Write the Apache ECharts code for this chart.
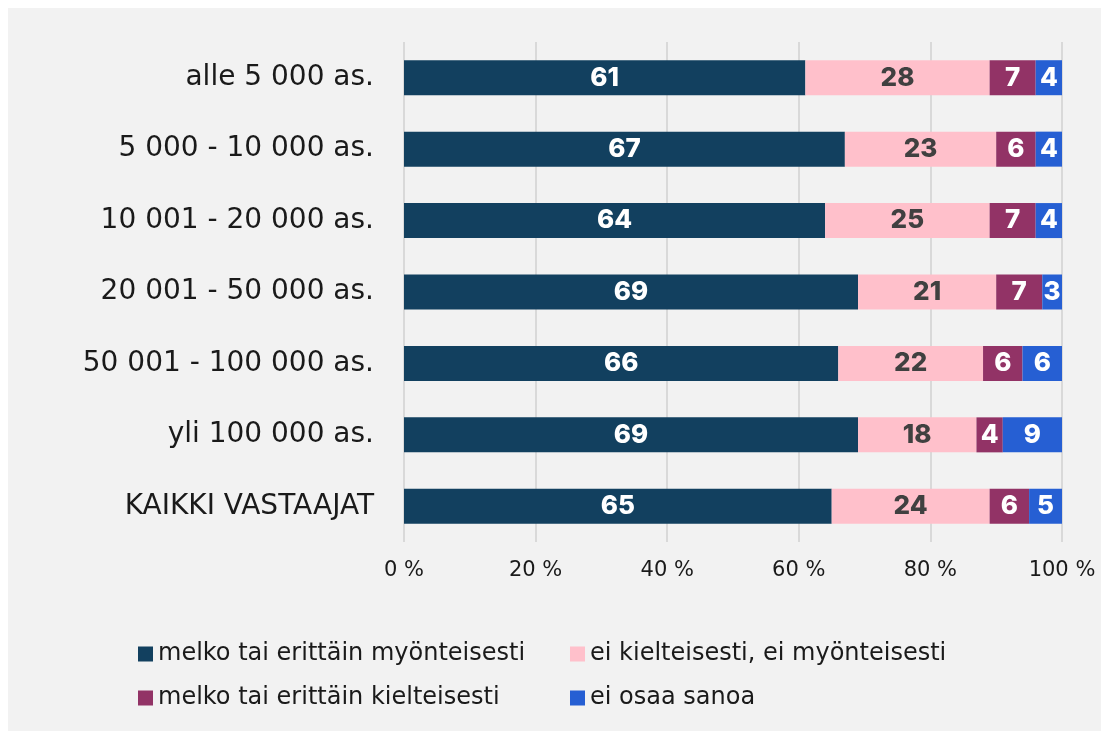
<!DOCTYPE html>
<html>
<head>
<meta charset="utf-8">
<script src="https://cdn.jsdelivr.net/npm/echarts@6/dist/echarts.min.js"></script>
<style>
  html, body { margin: 0; padding: 0; background: #ffffff; }
  #chart { width: 1101px; height: 731px; }
</style>
</head>
<body>
<div id="chart"></div>
<script>
// kuntakoko-ryhmät (ylhäältä alas)
const categories = [
  "alle 5 000 as.",
  "5 000 - 10 000 as.",
  "10 001 - 20 000 as.",
  "20 001 - 50 000 as.",
  "50 001 - 100 000 as.",
  "yli 100 000 as.",
  "KAIKKI VASTAAJAT"
];
const seriesNames = [
  "melko tai erittäin myönteisesti",
  "ei kielteisesti, ei myönteisesti",
  "melko tai erittäin kielteisesti",
  "ei osaa sanoa"
];
const myonteisesti = [61, 67, 64, 69, 66, 69, 65];
const neutraali = [28, 23, 25, 21, 22, 18, 24];
const kielteisesti = [7, 6, 7, 7, 6, 4, 6];
const eiOsaa = [4, 4, 4, 3, 6, 9, 5];
const xTicks = [0, 20, 40, 60, 80, 100];

const colors = ["#12405f", "#ffc0cb", "#923366", "#265fd3"];
const labelColors = ["#ffffff", "#404040", "#ffffff", "#ffffff"];
const textFont = "'DejaVu Sans', sans-serif";
const numFont = "Inter, 'Open Sans', sans-serif";

const chart = echarts.init(document.getElementById("chart"));

const allData = [myonteisesti, neutraali, kielteisesti, eiOsaa];

chart.setOption({
  animation: false,
  backgroundColor: "#ffffff",
  graphic: [{
    type: "rect",
    z: -10,
    silent: true,
    shape: { x: 8, y: 8, width: 1101, height: 731 },
    style: { fill: "#f2f2f2" }
  }],
  grid: {
    left: 404,
    right: 39,
    top: 42,
    bottom: 189
  },
  legend: {
    data: seriesNames,
    left: 138,
    top: 636,
    padding: 0,
    width: 880,
    itemWidth: 15,
    itemHeight: 15,
    itemGap: 8,
    icon: "rect",
    textStyle: {
      fontFamily: textFont,
      fontSize: 24,
      color: "#1a1a1a",
      width: 404,
      lineHeight: 36
    }
  },
  xAxis: {
    type: "value",
    min: xTicks[0],
    max: xTicks[xTicks.length - 1],
    interval: 20,
    axisLine: { show: false },
    axisTick: { show: false },
    axisLabel: {
      formatter: "{value} %",
      fontFamily: textFont,
      fontSize: 21,
      color: "#1a1a1a",
      margin: 18
    },
    splitLine: { lineStyle: { color: "#d9d9d9", width: 2 } }
  },
  yAxis: {
    type: "category",
    data: categories,
    inverse: true,
    axisLine: { show: false },
    axisTick: { show: false },
    axisLabel: {
      fontFamily: textFont,
      fontSize: 28,
      color: "#1a1a1a",
      margin: 30
    }
  },
  series: seriesNames.map((name, i) => ({
    name: name,
    type: "bar",
    stack: "total",
    barWidth: 35,
    data: allData[i],
    itemStyle: { color: colors[i] },
    label: {
      show: true,
      position: "inside",
      fontFamily: numFont,
      fontSize: 26,
      fontWeight: 800,
      color: labelColors[i]
    }
  }))
});
</script>
</body>
</html>
